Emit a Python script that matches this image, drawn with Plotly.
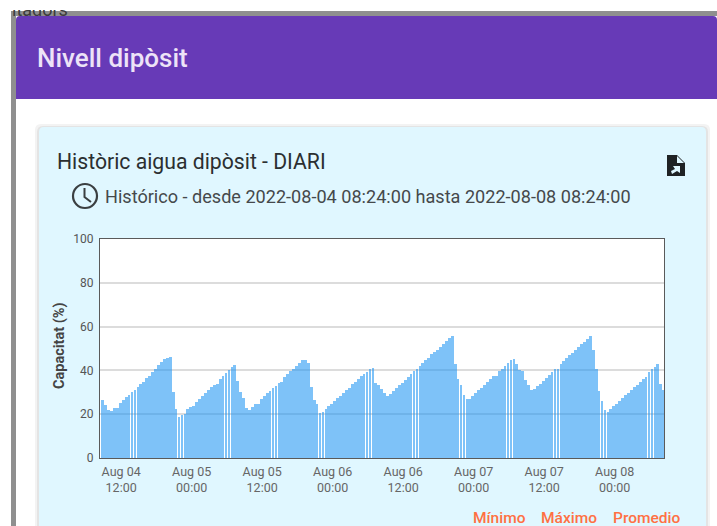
import pandas as pd
import plotly.graph_objects as go

W, H = 717, 526

# ---- data ----
level = [
    26.3, 24, 22, 21.5, 22.8, 23, 25.3, 26.5, 27.7, 28.8, 30, 31.2, 32.5, 33.8, 34.5, 36.5, 37.6, 39.4, 40.6, 42.5,
    43.8, 45.4, 45.8, 46.1, 30, 22.2, 18.7, 19.5, 20.2, 22.2, 23.4, 23.7, 25.6, 27, 28.3, 29.7, 31, 32.2, 33.3, 33.8,
    36, 37.3, 38.7, 40.3, 41.4, 42.3, 35, 30, 27.5, 23, 21.8, 23.3, 24.7, 24.8, 27, 28.3, 29.5, 30.7, 32, 33, 34.4,
    34.7, 37, 38.5, 39.7, 40.8, 41.9, 43.4, 44.9, 44.9, 43.5, 32.6, 26.3, 24.8, 20.7, 21, 22.5, 23.6, 24.8, 26, 27.2,
    28.5, 29.8, 31.2, 32, 33.6, 34.5, 36, 37.3, 38.5, 39.3, 40.8, 41, 34.4, 33.2, 31.7, 29.7, 28.2, 29.4, 30.6, 32,
    33.2, 34.4, 35.8, 37, 38.2, 39.6, 40.8, 42, 43.2, 44.6, 45.8, 47.3, 48.4, 49.2, 50.7, 52.2, 53.3, 55, 55.6,
    43, 36.2, 33.5, 28.6, 27, 27.1, 28.2, 29.8, 30.9, 32, 33.5, 34.7, 36, 37.3, 37.3, 39.6, 40.6, 42, 43.4, 44.6, 45.4,
    42.8, 40, 39.6, 35.5, 33.5, 31.2, 31.3, 32.7, 33.9, 35.3, 36.5, 37.7, 39.3, 40.5, 40.6, 43, 44.2, 45.7, 47, 48.1,
    49.3, 50.7, 52, 53, 54.5, 55.6, 49.2, 40.6, 30.6, 25.9, 21.8, 21, 22.2, 23.6, 24.8, 26, 27.4, 28.6, 29.7, 30.9,
    32.4, 33.5, 34.7, 35.9, 37, 39.3, 40.5, 41.6, 42.7, 33.6, 30.9,
]
times = pd.date_range("2022-08-04 08:51", periods=len(level), freq="30min")
range_start = "2022-08-04 08:24"
range_end = "2022-08-08 08:24"
tick_times = ["2022-08-04 12:00", "2022-08-05 00:00", "2022-08-05 12:00", "2022-08-06 00:00",
              "2022-08-06 12:00", "2022-08-07 00:00", "2022-08-07 12:00", "2022-08-08 00:00"]
tick_labels = ["Aug 04<br>12:00", "Aug 05<br>00:00", "Aug 05<br>12:00", "Aug 06<br>00:00",
               "Aug 06<br>12:00", "Aug 07<br>00:00", "Aug 07<br>12:00", "Aug 08<br>00:00"]
y_ticks = [0, 20, 40, 60, 80, 100]

fig = go.Figure()
fig.add_bar(x=times, y=level, width=28 * 60 * 1000,
            marker=dict(color="rgba(33,150,243,0.58)", line=dict(width=0)),
            hoverinfo="skip", showlegend=False)


def px(x):
    return x / W


def py(y):
    return 1 - y / H


def rect(x0, y0, x1, y1, color):
    fig.add_shape(type="rect", xref="paper", yref="paper", x0=px(x0), x1=px(x1), y0=py(y0), y1=py(y1),
                  fillcolor=color, line_width=0, layer="below")


def round_top(x0, y0, x1, y1, r, color):
    fig.add_shape(type="path", xref="paper", yref="paper", fillcolor=color, line_width=0, layer="below",
                  path=(f"M {px(x0)} {py(y1)} L {px(x0)} {py(y0 + r)} Q {px(x0)} {py(y0)} {px(x0 + r)} {py(y0)} "
                        f"L {px(x1 - r)} {py(y0)} Q {px(x1)} {py(y0)} {px(x1)} {py(y0 + r)} L {px(x1)} {py(y1)} Z"))


def text(x, y, s, size, color, anchor="left", family="Roboto", angle=0, weight=400):
    fig.add_annotation(xref="paper", yref="paper", x=px(x), y=py(y), text=s, showarrow=False,
                       xanchor=anchor, yanchor="middle", textangle=angle,
                       font=dict(family=family, size=size, color=color, weight=weight))


# page chrome
rect(11, 11, 717, 526, "#8f8f8f")
rect(16, 16, 717, 526, "#ffffff")
round_top(16, 16, 717, 99, 4, "#673AB7")
# card shadow and card
round_top(35, 124, 710, 526, 6, "#f3f3f3")
round_top(37, 126, 708, 526, 6, "#e4e4e4")
round_top(39, 127, 706, 526, 5, "#E0F7FF")
# white plotting area on top of the card
rect(100, 239, 664, 458, "#ffffff")

text(35, 57.5, "Nivell dipòsit", 26, "#EDE3F7", weight=500)
text(55, 161, "Històric aigua dipòsit - DIARI", 21.2, "#2b2f31")
text(103, 196, "Histórico - desde 2022-08-04 08:24:00 hasta 2022-08-08 08:24:00", 18.1, "#45494b")
text(59, 346, "Capacitat (%)", 14.5, "#444444", anchor="center", angle=-90, weight=700)
text(471, 518, "Mínimo", 15.5, "#FF7043", weight=500)
text(539, 518, "Máximo", 15.5, "#FF7043", weight=500)
text(611, 518, "Promedio", 15.5, "#FF7043", weight=500)

# clipped text of the page behind the dialog
fig.add_trace(go.Scatter(x=[12], y=[5], mode="text", text=["itadors"], textposition="middle right",
                         textfont=dict(family="Roboto", size=18, color="#3c3c3c"),
                         xaxis="x2", yaxis="y2", cliponaxis=True, hoverinfo="skip", showlegend=False))

# clock icon
fig.add_shape(type="circle", xref="paper", yref="paper", x0=px(73), x1=px(97), y0=py(208), y1=py(184),
              line=dict(color="#3b3f41", width=2.2), layer="above")
fig.add_shape(type="path", xref="paper", yref="paper", layer="above",
              path=f"M {px(84.5)} {py(188)} L {px(84.5)} {py(197)} L {px(91)} {py(202)}",
              line=dict(color="#3b3f41", width=2))
# file icon
fig.add_shape(type="path", xref="paper", yref="paper", layer="above", fillcolor="#1f2224", line_width=0,
              path=(f"M {px(667)} {py(155)} L {px(677)} {py(155)} L {px(685)} {py(163)} L {px(685)} {py(176)} "
                    f"L {px(667)} {py(176)} Z"))
fig.add_shape(type="path", xref="paper", yref="paper", layer="above", fillcolor="#E0F7FF", line_width=0,
              path=f"M {px(677)} {py(156)} L {px(684)} {py(163)} L {px(677)} {py(163)} Z")
fig.add_shape(type="path", xref="paper", yref="paper", layer="above", fillcolor="#E0F7FF", line_width=0,
              path=(f"M {px(672)} {py(174)} L {px(671)} {py(171)} L {px(675)} {py(169)} L {px(673)} {py(166)} "
                    f"L {px(680)} {py(166)} L {px(680)} {py(173)} L {px(677)} {py(171)} Z"))

fig.update_layout(
    template="none",
    width=W, height=H, margin=dict(l=0, r=0, t=0, b=0, pad=0), autosize=False,
    paper_bgcolor="#ffffff", plot_bgcolor="#ffffff", showlegend=False, bargap=0,
    xaxis=dict(domain=[px(100), px(664)], type="date", range=[range_start, range_end], automargin=False,
               tickmode="array", tickvals=tick_times, ticktext=tick_labels, ticks="", showgrid=False,
               showline=True, linecolor="#5a5a5a", linewidth=1, mirror=True, zeroline=False, ticklabelstandoff=2,
               tickfont=dict(family="Roboto", size=12.5, color="#666666")),
    yaxis=dict(domain=[py(458), py(239)], range=[0, 100], tickmode="array", tickvals=y_ticks, ticks="",
               automargin=False, showgrid=True, gridcolor="#dcdcdc", gridwidth=1.5, showline=True,
               linecolor="#5a5a5a", linewidth=1, mirror=True, zeroline=False, ticklabelstandoff=3,
               tickfont=dict(family="Roboto", size=12, color="#555555")),
    xaxis2=dict(domain=[px(11), px(120)], range=[11, 120], visible=False, anchor="y2", automargin=False),
    yaxis2=dict(domain=[py(16), py(10)], range=[0, 6], visible=False, anchor="x2", automargin=False),
)

fig.write_html("out.html", config={"displayModeBar": False},
               post_script="document.body.style.margin='0';document.body.style.overflow='hidden';")
